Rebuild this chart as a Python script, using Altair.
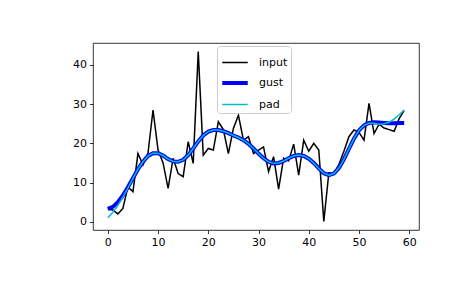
import altair as alt
import pandas as pd

x_vals = list(range(60))
input_vals = [3.2, 3.0, 2.0, 3.4, 8.9, 7.7, 17.4, 14.5, 17.5, 28.5,
              18.3, 15.0, 8.5, 16.2, 12.3, 11.5, 20.4, 14.9, 43.4, 17.0,
              18.7, 18.3, 25.5, 23.5, 17.4, 23.8, 27.2, 20.8, 21.7, 17.4,
              18.3, 19.1, 12.8, 16.6, 8.3, 16.2, 15.5, 19.8, 11.9, 20.8,
              18.0, 20.0, 18.3, 0.1, 12.5, 12.3, 14.6, 18.0, 21.7, 23.4,
              22.8, 20.8, 30.2, 22.5, 24.9, 23.9, 23.5, 23.1, 26.3, 28.4]
gust_vals = [3.3, 3.8, 5.0, 6.7, 8.8, 11.1, 13.4, 15.3, 16.8, 17.5,
             17.5, 16.9, 16.0, 15.4, 15.3, 15.8, 17.0, 18.7, 20.5, 22.0,
             23.0, 23.4, 23.4, 23.1, 22.6, 22.0, 21.5, 20.8, 19.9, 18.7,
             17.4, 16.2, 15.3, 14.9, 15.0, 15.5, 16.2, 16.8, 17.0, 16.8,
             16.1, 15.0, 13.6, 12.4, 11.9, 12.3, 13.7, 15.9, 18.6, 21.2,
             23.3, 24.6, 25.2, 25.4, 25.3, 25.2, 25.1, 25.1, 25.2, 25.2]
pad_vals = [1.0, 2.4, 4.2, 6.3, 8.6, 11.0, 13.4, 15.3, 16.8, 17.5,
            17.5, 16.9, 16.0, 15.4, 15.3, 15.8, 17.0, 18.7, 20.5, 22.0,
            23.0, 23.4, 23.4, 23.1, 22.6, 22.0, 21.5, 20.8, 19.9, 18.7,
            17.4, 16.2, 15.3, 14.9, 15.0, 15.5, 16.2, 16.8, 17.0, 16.8,
            16.1, 15.0, 13.6, 12.4, 11.9, 12.3, 13.7, 15.9, 18.6, 21.2,
            23.3, 24.6, 25.1, 25.1, 24.9, 25.0, 25.4, 26.2, 27.3, 28.5]

series_names = ["input", "gust", "pad"]
series_colors = ["black", "blue", "#00bfbf"]
series_widths = [1.5, 4, 1.5]
x_ticks = [0, 10, 20, 30, 40, 50, 60]
y_ticks = [0, 10, 20, 30, 40]

rows = []
for name, vals in zip(series_names, [input_vals, gust_vals, pad_vals]):
    for xv, yv in zip(x_vals, vals):
        rows.append({"x": xv, "y": yv, "series": name})
df = pd.DataFrame(rows)

legend = alt.Legend(
    title=None, orient="none", legendX=124, legendY=3,
    symbolType="stroke", symbolSize=650, labelFontSize=11,
    labelFont="DejaVu Sans", labelColor="black", labelOffset=9,
    padding=3, strokeColor="#cccccc", fillColor="rgba(255,255,255,0.8)",
    cornerRadius=3, rowPadding=0,
)

def layer(name):
    return alt.Chart(df).transform_filter(
        alt.datum.series == name
    ).mark_line().encode(
        x=alt.X("x:Q", scale=alt.Scale(domain=[-2.95, 61.95], nice=False, zero=False),
                axis=alt.Axis(values=x_ticks, title=None, grid=False, format="d")),
        y=alt.Y("y:Q", scale=alt.Scale(domain=[-2.1, 45.6], nice=False, zero=False),
                axis=alt.Axis(values=y_ticks, title=None, grid=False, format="d")),
        color=alt.Color("series:N", scale=alt.Scale(domain=series_names, range=series_colors),
                        sort=series_names, legend=legend),
        strokeWidth=alt.StrokeWidth("series:N",
                                    scale=alt.Scale(type="ordinal", domain=series_names, range=series_widths),
                                    sort=series_names, legend=legend),
    )

chart = alt.layer(*[layer(n) for n in series_names]).properties(
    width=326, height=187,
    padding={"left": 93, "top": 43, "right": 46, "bottom": 58},
    autosize="none",
).configure_view(
    stroke="black", strokeWidth=0.8
).configure_axis(
    domain=False, tickColor="black", tickSize=3.5, tickWidth=0.8,
    labelFont="DejaVu Sans", labelFontSize=11, labelColor="black", labelPadding=3,
)

chart.save("out.html", embed_options={"renderer": "svg", "actions": False})
